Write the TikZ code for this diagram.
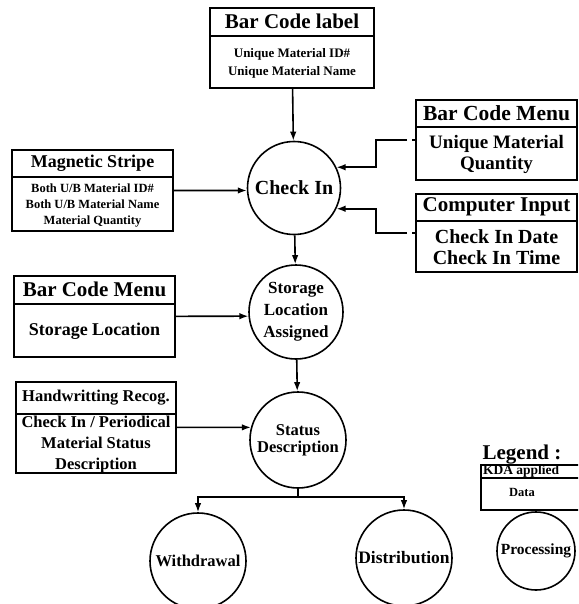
\documentclass[tikz,border=0pt]{standalone}
\usepackage{fontspec}
\setmainfont{Liberation Serif}
\usetikzlibrary{arrows.meta,positioning}
\newcommand{\txtsize}[2]{\fontsize{#1}{#2}\selectfont\bfseries}

\begin{document}
\begin{tikzpicture}[x=1pt,y=-1pt,>={Latex[length=9pt,width=6.5pt]},line width=1.6pt,
    box/.style={draw,inner sep=0pt},
    head/.style={inner sep=0pt,anchor=north},
    body/.style={inner sep=0pt,align=center},
    proc/.style={draw,circle,inner sep=0pt,align=center},
    feed/.style={->,dash pattern=on 3pt off 5pt on 400pt off 0pt}]
  \useasboundingbox (0,0) rectangle (578,604);
  \clip (0,0) rectangle (578,604);
  \fill[white] (0,0) rectangle (578,604);

  % processes
  \node[proc,minimum size=93pt,font=\txtsize{20}{21}] (checkin) at (294,188) {Check In};
  \node[proc,minimum size=94pt,font=\txtsize{17}{22}] (storage) at (296,312) {Storage\\Location\\Assigned};
  \node[proc,minimum size=96pt,font=\txtsize{16.5}{17}] (status) at (298,440) {Status\\Description};
  \node[proc,minimum size=96pt,font=\txtsize{16.5}{18}] (wd) at (198,561) {Withdrawal};
  \node[proc,minimum size=96pt,font=\txtsize{17.5}{18}] (dist) at (404,558) {Distribution};

  % data boxes
  \node[box,minimum width=164pt,minimum height=80pt] (bcl) at (292,48) {};
  \node[head,minimum height=27pt,font=\txtsize{21}{21}] (bclhead) at (bcl.north) {Bar Code label};
  \node[body,minimum height=53pt,font=\txtsize{13}{18},below=0pt of bclhead] (bclbody) {Unique Material ID\#\\Unique Material Name};
  \draw (bcl.west |- bclhead.south) -- (bcl.east |- bclhead.south);

  \node[box,minimum width=161pt,minimum height=81pt] (mag) at (92.5,190.5) {};
  \node[head,minimum height=26pt,font=\txtsize{18}{18}] (maghead) at (mag.north) {Magnetic Stripe};
  \node[body,minimum height=55pt,font=\txtsize{12.5}{16},below=0pt of maghead] (magbody) {Both U/B Material ID\#\\Both U/B Material Name\\Material Quantity};
  \draw (mag.west |- maghead.south) -- (mag.east |- maghead.south);

  \node[box,minimum width=161pt,minimum height=80pt] (menuR) at (496.5,140) {};
  \node[head,minimum height=26pt,font=\txtsize{21.5}{21}] (menuRhead) at (menuR.north) {Bar Code Menu};
  \node[body,minimum height=54pt,font=\txtsize{19}{21},below=0pt of menuRhead] (menuRbody) {Unique Material\\Quantity};
  \draw (menuR.west |- menuRhead.south) -- (menuR.east |- menuRhead.south);

  \node[box,minimum width=161pt,minimum height=78pt] (comp) at (496.5,233) {};
  \node[head,minimum height=26pt,font=\txtsize{21}{21}] (comphead) at (comp.north) {Computer Input};
  \node[body,minimum height=52pt,font=\txtsize{20}{21},below=0pt of comphead] (compbody) {Check In Date\\Check In Time};
  \draw (comp.west |- comphead.south) -- (comp.east |- comphead.south);

  \node[box,minimum width=161pt,minimum height=81pt] (menuL) at (94.5,316.5) {};
  \node[head,minimum height=27pt,font=\txtsize{21}{21}] (menuLhead) at (menuL.north) {Bar Code Menu};
  \node[body,minimum height=54pt,font=\txtsize{18}{20},below=0pt of menuLhead] (menuLbody) {Storage Location};
  \draw (menuL.west |- menuLhead.south) -- (menuL.east |- menuLhead.south);

  \node[box,minimum width=160pt,minimum height=91pt] (hand) at (96,427.5) {};
  \node[head,minimum height=31pt,font=\txtsize{16.5}{16}] (handhead) at (hand.north) {Handwritting Recog.};
  \node[body,minimum height=60pt,font=\txtsize{16.5}{21},below=0pt of handhead] (handbody) {Check In / Periodical\\Material Status\\Description};
  \draw (hand.west |- handhead.south) -- (hand.east |- handhead.south);

  % legend
  \node[font=\txtsize{21}{21}] (legtitle) at (522,455) {Legend :};
  \node[box,minimum width=109pt,minimum height=45pt] (leg) at (535.5,487.5) {};
  \node[head,anchor=north west,minimum height=12pt,font=\txtsize{13.5}{13}] (leghead) at ([xshift=2pt]leg.north west) {KDA applied};
  \draw (leg.west |- leghead.south) -- (leg.east |- leghead.south);
  \node[font=\txtsize{12.5}{12}] (legbody) at (522,492) {Data};
  \node[proc,minimum size=78pt,font=\txtsize{15.5}{17}] (legproc) at (536,551) {Processing};

  % flows
  \path[->]
    (bcl) edge (checkin)
    (mag) edge (checkin.183)
    (checkin) edge (storage)
    (menuL) edge (storage.185)
    (storage) edge (status)
    (hand) edge (status.165);
  \draw[feed] (menuR.west) -- ++(-39,0) |- (checkin.26);
  \draw[feed] (comp.west) -- ++(-39,0) |- (checkin.-26);
  \coordinate (fork) at (298,497);
  \draw[->] (status.south) -- (fork) -| (wd.north);
  \draw[->] (fork) -| (dist.north);
\end{tikzpicture}
\end{document}
